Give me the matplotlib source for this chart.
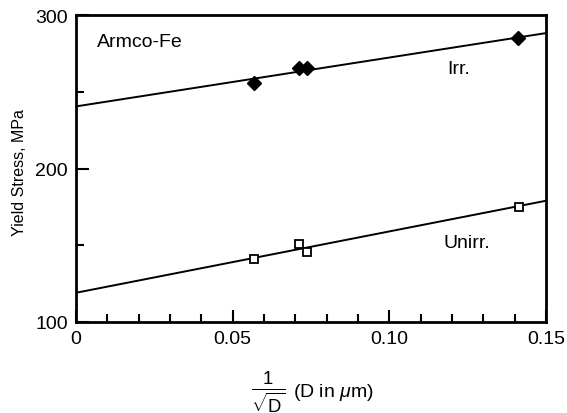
import matplotlib
matplotlib.use("Agg")
import matplotlib.pyplot as plt
from matplotlib.ticker import MultipleLocator

plt.rcParams.update({
    "font.family": "Liberation Sans",
    "font.size": 14,
    "mathtext.fontset": "custom",
    "mathtext.rm": "Liberation Sans",
    "mathtext.it": "Liberation Sans:italic",
    "mathtext.sf": "Liberation Sans",
})

# data
irr_x = [0.0568, 0.0712, 0.0736, 0.1410]
irr_y = [256.0, 265.5, 265.5, 284.8]
unirr_x = [0.0568, 0.0712, 0.0736, 0.1414]
unirr_y = [141.0, 150.8, 145.8, 174.7]

# fitted lines (end points at x=0 and x=0.15)
line_x = [0.0, 0.15]
irr_line = [240.5, 288.3]
unirr_line = [119.0, 179.0]

fig = plt.figure(figsize=(5.67, 4.14), dpi=100)
ax = fig.add_axes([0.134, 0.22, 0.829, 0.741])

ax.plot(line_x, irr_line, color="black", lw=1.4)
ax.plot(line_x, unirr_line, color="black", lw=1.4)
ax.plot(irr_x, irr_y, "D", color="black", ms=7, mec="black")
ax.plot(unirr_x, unirr_y, "s", mfc="white", mec="black", mew=1.3, ms=6)

ax.set_xlim(0, 0.15)
ax.set_ylim(100, 300)
ax.xaxis.set_minor_locator(MultipleLocator(0.01))
ax.yaxis.set_major_locator(MultipleLocator(100))
ax.yaxis.set_minor_locator(MultipleLocator(50))
ax.set_xticks([0, 0.05, 0.10, 0.15])
ax.set_xticklabels(["0", "0.05", "0.10", "0.15"])
ax.tick_params(which="both", direction="in", width=1.5, labelsize=14, pad=6)
ax.tick_params(which="major", length=9)
ax.tick_params(which="minor", length=6)
for s in ax.spines.values():
    s.set_linewidth(2)

ax.text(0.0066, 279.6, "Armco-Fe", fontsize=14)
ax.text(0.1185, 262, "Irr.", fontsize=14)
ax.text(0.1174, 149, "Unirr.", fontsize=14)

ax.set_ylabel("Yield Stress, MPa", fontsize=11.5)
ax.yaxis.set_label_coords(-0.104, 0.49)

fig.text(0.474, 0.053, r"$\frac{1}{\sqrt{\mathrm{D}}}$", fontsize=19, ha="center", va="center")
fig.text(0.517, 0.051, r"(D in $\mu$m)", fontsize=14, ha="left", va="center")

fig.savefig("out.png", dpi=100)
